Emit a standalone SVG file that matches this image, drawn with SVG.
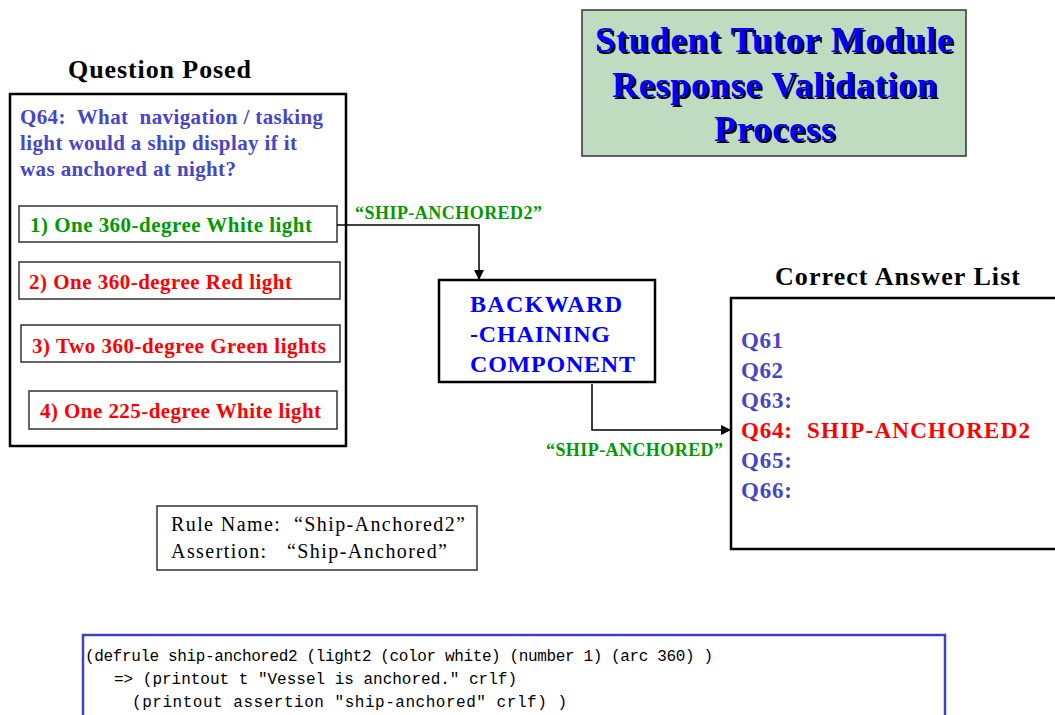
<svg xmlns="http://www.w3.org/2000/svg" width="1055" height="715" viewBox="0 0 1055 715">
<defs>
<style>
text{font-family:"Liberation Serif","Times New Roman","DejaVu Serif",serif;}
.ttl{font-size:36px;fill:#0000ff;font-weight:bold;}
.sh{font-size:36px;fill:#000;font-weight:bold;}
.hd{font-size:26px;fill:#000;font-weight:bold;}
.q{font-size:21px;fill:#4646c8;font-weight:bold;}
.opt{font-size:21px;font-weight:bold;}
.bc{font-size:24px;fill:#0000ff;font-weight:bold;}
.lst{font-size:23px;fill:#4646c8;font-weight:bold;}
.lab{font-size:18px;fill:#009900;font-weight:bold;}
.rule{font-size:20px;fill:#000;}
text.code{font-family:"Liberation Mono","Courier New",monospace;font-size:16px;fill:#000;}
.g{fill:#009900;}
.r{fill:#ff0000;}
.box{fill:#fff;stroke:#000;stroke-width:2.5;}
.obox{fill:#fff;stroke:#333;stroke-width:1.5;}
.conn{fill:none;stroke:#000;stroke-width:1.5;}
</style>
<marker id="arr" viewBox="0 0 10 10" refX="9" refY="5" markerWidth="10" markerHeight="10" orient="auto" markerUnits="userSpaceOnUse">
<path d="M0,0 L10,5 L0,10 z" fill="#000"/>
</marker>
</defs>
<rect width="1055" height="715" fill="#fff"/>

<g id="title">
<rect x="582" y="10" width="384" height="146" fill="#c0dcc0" stroke="#333" stroke-width="1.5"/>
<g class="sh">
<text x="597" y="54" textLength="358">Student Tutor Module</text>
<text x="614" y="99" textLength="325">Response Validation</text>
<text x="716" y="143" textLength="121">Process</text>
</g>
<g class="ttl">
<text x="595" y="52" textLength="358">Student Tutor Module</text>
<text x="612" y="97" textLength="325">Response Validation</text>
<text x="714" y="141" textLength="121">Process</text>
</g>
</g>

<g id="question">
<text class="hd" x="68" y="78" textLength="183">Question Posed</text>
<rect class="box" x="10" y="94" width="336" height="352"/>
<text class="q" x="20" y="124" textLength="303" xml:space="preserve">Q64:  What  navigation / tasking</text>
<text class="q" x="20" y="150" textLength="277">light would a ship display if it</text>
<text class="q" x="20" y="176" textLength="216">was anchored at night?</text>
</g>

<g id="opt1">
<rect class="obox" x="19" y="206" width="318" height="36"/>
<text class="opt g" x="30" y="232" textLength="282">1) One 360-degree White light</text>
</g>
<g id="opt2">
<rect class="obox" x="19" y="262" width="321" height="37"/>
<text class="opt r" x="29" y="289" textLength="263">2) One 360-degree Red light</text>
</g>
<g id="opt3">
<rect class="obox" x="21" y="325" width="319" height="37"/>
<text class="opt r" x="32" y="353" textLength="294">3) Two 360-degree Green lights</text>
</g>
<g id="opt4">
<rect class="obox" x="29" y="391" width="308" height="38"/>
<text class="opt r" x="40" y="418" textLength="281">4) One 225-degree White light</text>
</g>

<g id="backward">
<rect class="box" x="439" y="280" width="216" height="102"/>
<text class="bc" x="470" y="312" textLength="152">BACKWARD</text>
<text class="bc" x="470" y="342" textLength="140">-CHAINING</text>
<text class="bc" x="470" y="372" textLength="165">COMPONENT</text>
</g>

<g id="answers">
<text class="hd" x="775" y="285" textLength="245">Correct Answer List</text>
<rect class="box" x="731" y="298" width="340" height="251"/>
<text class="lst" x="741" y="348" textLength="42">Q61</text>
<text class="lst" x="741" y="378" textLength="42">Q62</text>
<text class="lst" x="741" y="408" textLength="51">Q63:</text>
<text class="lst" x="741" y="438" textLength="51" style="fill:#ff0000">Q64:</text>
<text class="lst" x="807" y="438" textLength="223" style="fill:#ff0000">SHIP-ANCHORED2</text>
<text class="lst" x="741" y="468" textLength="51">Q65:</text>
<text class="lst" x="741" y="498" textLength="51">Q66:</text>
</g>

<g id="rule">
<rect class="obox" x="157" y="506" width="320" height="64"/>
<text class="rule" x="171" y="531" textLength="294" xml:space="preserve">Rule Name:  “Ship-Anchored2”</text>
<text class="rule" x="171" y="558" textLength="276" xml:space="preserve">Assertion:   “Ship-Anchored”</text>
</g>

<g id="code">
<rect x="83" y="635" width="862" height="90" fill="#fff" stroke="#4040c0" stroke-width="2.5"/>
<text class="code" x="85" y="661" textLength="628">(defrule ship-anchored2 (light2 (color white) (number 1) (arc 360) )</text>
<text class="code" x="114" y="684" textLength="403">=&gt; (printout t "Vessel is anchored." crlf)</text>
<text class="code" x="132" y="707" textLength="435">(printout assertion "ship-anchored" crlf) )</text>
</g>

<g id="connectors">
<path class="conn" d="M337,225 H479 V279" marker-end="url(#arr)"/>
<text class="lab" x="355" y="219" textLength="187">“SHIP-ANCHORED2”</text>
<path class="conn" d="M592,384 V430 H730" marker-end="url(#arr)"/>
<text class="lab" x="546" y="456" textLength="177">“SHIP-ANCHORED”</text>
</g>
</svg>
